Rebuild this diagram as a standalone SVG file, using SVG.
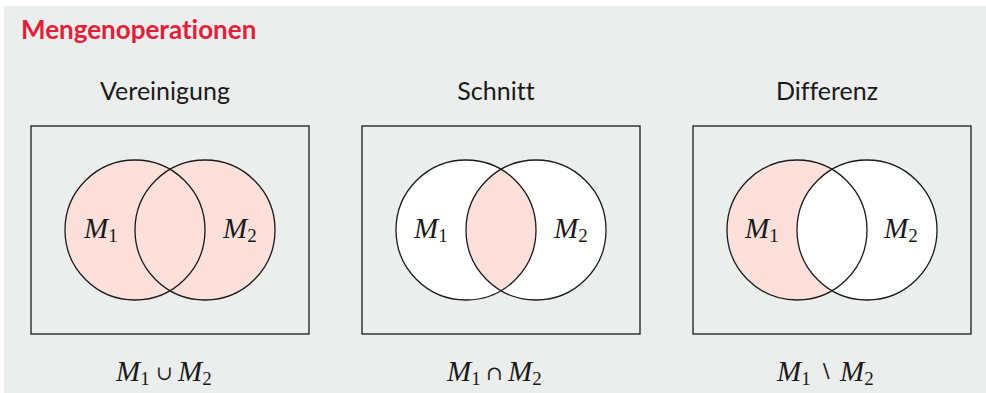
<svg xmlns="http://www.w3.org/2000/svg" width="986" height="393" viewBox="0 0 986 393">
<style>
.bg{fill:#ECEDED}
.frame{fill:none;stroke:#1a1a1a;stroke-width:1.3}
.c{stroke:#1a1a1a;stroke-width:1.3}
.pink{fill:#FDE0D9}
.white{fill:#FFFFFF}
.ttl{font-family:Lato,"Open Sans",sans-serif;font-weight:bold;font-size:26px;fill:#E0213A;font-variant-ligatures:none}
.hd{font-family:Lato,"Open Sans",sans-serif;font-size:25px;fill:#1a1a1a;text-anchor:middle;font-variant-ligatures:none}
.m{font-family:"Liberation Serif","DejaVu Serif",serif;font-size:29px;fill:#1a1a1a}
.mi{font-style:italic}
.sub{font-size:19px}
.op{font-family:"DejaVu Serif",serif;font-size:20px;fill:#1a1a1a}
</style>
<defs>
<clipPath id="clipL2"><circle cx="466" cy="230" r="70"/></clipPath>
</defs>
<rect class="bg" x="4" y="6" width="982" height="387"/>
<text class="ttl" x="21" y="39">Mengenoperationen</text>

<g id="vereinigung">
<text class="hd" x="165" y="100">Vereinigung</text>
<rect class="frame" x="31" y="126" width="278" height="208"/>
<circle class="pink" cx="135" cy="230" r="70"/>
<circle class="pink" cx="205" cy="230" r="70"/>
<circle class="c" fill="none" cx="135" cy="230" r="70"/>
<circle class="c" fill="none" cx="205" cy="230" r="70"/>
<text class="m" x="84" y="238"><tspan class="mi">M</tspan><tspan class="sub" dy="4">1</tspan></text>
<text class="m" x="223" y="238"><tspan class="mi">M</tspan><tspan class="sub" dy="4">2</tspan></text>
<text class="m" x="116" y="381"><tspan class="mi">M</tspan><tspan class="sub" dy="4">1</tspan></text>
<text class="op" x="156" y="380">∪</text>
<text class="m" x="178" y="381"><tspan class="mi">M</tspan><tspan class="sub" dy="4">2</tspan></text>
</g>

<g id="schnitt">
<text class="hd" x="496" y="100">Schnitt</text>
<rect class="frame" x="362" y="126" width="278" height="208"/>
<circle class="white" cx="466" cy="230" r="70"/>
<circle class="white" cx="536" cy="230" r="70"/>
<circle class="pink" cx="536" cy="230" r="70" clip-path="url(#clipL2)"/>
<circle class="c" fill="none" cx="466" cy="230" r="70"/>
<circle class="c" fill="none" cx="536" cy="230" r="70"/>
<text class="m" x="414" y="238"><tspan class="mi">M</tspan><tspan class="sub" dy="4">1</tspan></text>
<text class="m" x="554" y="238"><tspan class="mi">M</tspan><tspan class="sub" dy="4">2</tspan></text>
<text class="m" x="447" y="381"><tspan class="mi">M</tspan><tspan class="sub" dy="4">1</tspan></text>
<text class="op" x="486" y="380">∩</text>
<text class="m" x="508" y="381"><tspan class="mi">M</tspan><tspan class="sub" dy="4">2</tspan></text>
</g>

<g id="differenz">
<text class="hd" x="827" y="100">Differenz</text>
<rect class="frame" x="693" y="126" width="278" height="208"/>
<circle class="pink" cx="797" cy="230" r="70"/>
<circle class="white" cx="867" cy="230" r="70"/>
<circle class="c" fill="none" cx="797" cy="230" r="70"/>
<circle class="c" fill="none" cx="867" cy="230" r="70"/>
<text class="m" x="745" y="238"><tspan class="mi">M</tspan><tspan class="sub" dy="4">1</tspan></text>
<text class="m" x="884" y="238"><tspan class="mi">M</tspan><tspan class="sub" dy="4">2</tspan></text>
<text class="m" x="777" y="381"><tspan class="mi">M</tspan><tspan class="sub" dy="4">1</tspan></text>
<text class="op" x="819" y="379" font-size="18">∖</text>
<text class="m" x="840" y="381"><tspan class="mi">M</tspan><tspan class="sub" dy="4">2</tspan></text>
</g>
<g id="connectors"/>
</svg>
